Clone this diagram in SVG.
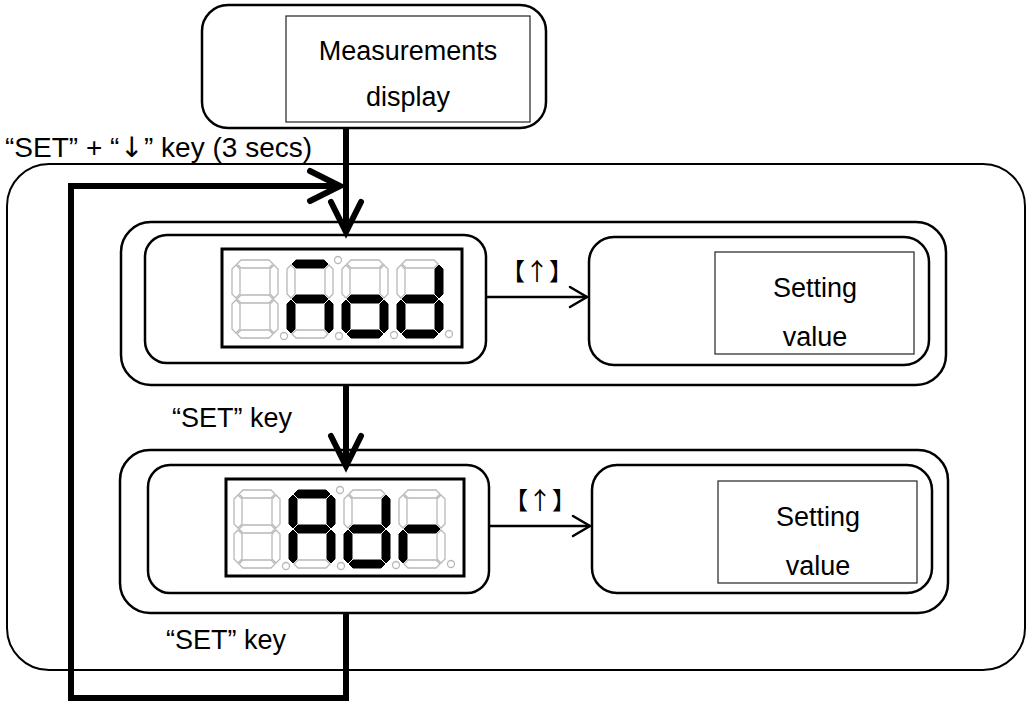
<svg xmlns="http://www.w3.org/2000/svg" xmlns:xlink="http://www.w3.org/1999/xlink" width="1026" height="702" viewBox="0 0 1026 702">
  <style>
    .box { fill: none; stroke: #000; stroke-width: 2.5; }
    .frame { fill: none; stroke: #000; stroke-width: 2; }
    .thin { fill: none; stroke: #222; stroke-width: 1.2; }
    .lcd { fill: #fff; stroke: #000; stroke-width: 3; }
    .on { fill: #000; stroke: #000; stroke-width: 1; }
    .off { fill: #fff; stroke: #b8b8b8; stroke-width: 1.3; }
    .dp { fill: #fff; stroke: #b8b8b8; stroke-width: 1.3; }
    .lbl { font-family: "Liberation Sans", Arial, sans-serif; font-size: 27px; fill: #000; }
    .arrowglyph { font-family: "DejaVu Sans", sans-serif; fill: #000; }
    .key { font-family: "Noto Sans CJK JP", "Liberation Sans", sans-serif; font-size: 24px; fill: #000; }
    .flow { fill: none; stroke: #000; stroke-width: 6; stroke-linejoin: miter; }
    .step { fill: none; stroke: #000; stroke-width: 2.5; }
  </style>
  <defs>
    <!-- seven-segment shapes, digit cell 46 x 78 -->
    <polygon id="sa" points="9,0 37,0 41,4 37,8 9,8 5,4"/>
    <polygon id="sb" points="38,9 42,5 46,9 46,34 42,38 38,34"/>
    <polygon id="sc" points="38,44 42,40 46,44 46,69 42,73 38,69"/>
    <polygon id="sd" points="9,70 37,70 41,74 37,78 9,78 5,74"/>
    <polygon id="se" points="0,44 4,40 8,44 8,69 4,73 0,69"/>
    <polygon id="sf" points="0,9 4,5 8,9 8,34 4,38 0,34"/>
    <polygon id="sg" points="9,35 37,35 41,39 37,43 9,43 5,39"/>
    <marker id="bigHead" markerUnits="userSpaceOnUse" markerWidth="50" markerHeight="50" refX="0" refY="0" viewBox="-40 -25 50 50" orient="auto" overflow="visible">
      <path d="M-30,-15 L0,0 L-30,15" fill="none" stroke="#000" stroke-width="6" stroke-linecap="round" stroke-linejoin="miter"/>
    </marker>
    <marker id="smallHead" markerUnits="userSpaceOnUse" markerWidth="30" markerHeight="30" refX="0" refY="0" viewBox="-25 -15 30 30" orient="auto" overflow="visible">
      <path d="M-17,-10 L0,0 L-17,10" fill="none" stroke="#000" stroke-width="2.5" stroke-linecap="round"/>
    </marker>
  </defs>

  <!-- outer frame of the settings loop -->
  <g id="settings-frame">
    <rect class="frame" x="7" y="164" width="1018" height="506" rx="42"/>
  </g>

  <!-- measurement display -->
  <g id="measurements">
    <rect class="box" x="202" y="5" width="344" height="123" rx="26"/>
    <rect class="thin" x="286" y="16" width="244" height="106"/>
    <text class="lbl" x="408" y="60" text-anchor="middle">Measurements</text>
    <text class="lbl" x="408" y="106" text-anchor="middle">display</text>
  </g>

  <!-- Mod item -->
  <g id="item-mod">
    <rect class="box" x="121" y="222" width="825" height="163" rx="30"/>
    <g id="display-mod">
      <rect class="box" x="145" y="235" width="341" height="128" rx="22"/>
      <rect class="lcd" x="222" y="249" width="240" height="98"/>
      <g transform="translate(232,260)">
        <use href="#sa" class="off"/><use href="#sb" class="off"/><use href="#sc" class="off"/><use href="#sd" class="off"/><use href="#se" class="off"/><use href="#sf" class="off"/><use href="#sg" class="off"/>
      </g>
      <g transform="translate(287,260)">
        <use href="#sa" class="on"/><use href="#sb" class="off"/><use href="#sc" class="on"/><use href="#sd" class="off"/><use href="#se" class="on"/><use href="#sf" class="off"/><use href="#sg" class="on"/>
      </g>
      <g transform="translate(342,260)">
        <use href="#sa" class="off"/><use href="#sb" class="off"/><use href="#sc" class="on"/><use href="#sd" class="on"/><use href="#se" class="on"/><use href="#sf" class="off"/><use href="#sg" class="on"/>
      </g>
      <g transform="translate(397,260)">
        <use href="#sa" class="off"/><use href="#sb" class="on"/><use href="#sc" class="on"/><use href="#sd" class="on"/><use href="#se" class="on"/><use href="#sf" class="off"/><use href="#sg" class="on"/>
      </g>
      <circle class="dp" cx="284" cy="336" r="3.5"/>
      <circle class="dp" cx="339" cy="336" r="3.5"/>
      <circle class="dp" cx="394" cy="335" r="3.5"/>
      <circle class="dp" cx="449" cy="334" r="3.5"/>
      <circle class="dp" cx="338" cy="260" r="3.5"/>
    </g>
    <g id="setting-mod">
      <rect class="box" x="589" y="237" width="340" height="128" rx="25"/>
      <rect class="thin" x="715" y="252" width="199" height="102"/>
      <text class="lbl" x="815" y="297" text-anchor="middle">Setting</text>
      <text class="lbl" x="815" y="346" text-anchor="middle">value</text>
    </g>
  </g>

  <!-- Adr item -->
  <g id="item-adr">
    <rect class="box" x="120" y="450" width="828" height="163" rx="30"/>
    <g id="display-adr">
      <rect class="box" x="148" y="465" width="341" height="128" rx="22"/>
      <rect class="lcd" x="226" y="479" width="238" height="97"/>
      <g transform="translate(234,490)">
        <use href="#sa" class="off"/><use href="#sb" class="off"/><use href="#sc" class="off"/><use href="#sd" class="off"/><use href="#se" class="off"/><use href="#sf" class="off"/><use href="#sg" class="off"/>
      </g>
      <g transform="translate(289,490)">
        <use href="#sa" class="on"/><use href="#sb" class="on"/><use href="#sc" class="on"/><use href="#sd" class="off"/><use href="#se" class="on"/><use href="#sf" class="on"/><use href="#sg" class="on"/>
      </g>
      <g transform="translate(344,490)">
        <use href="#sa" class="off"/><use href="#sb" class="on"/><use href="#sc" class="on"/><use href="#sd" class="on"/><use href="#se" class="on"/><use href="#sf" class="off"/><use href="#sg" class="on"/>
      </g>
      <g transform="translate(399,490)">
        <use href="#sa" class="off"/><use href="#sb" class="off"/><use href="#sc" class="off"/><use href="#sd" class="off"/><use href="#se" class="on"/><use href="#sf" class="off"/><use href="#sg" class="on"/>
      </g>
      <circle class="dp" cx="286" cy="566" r="3.5"/>
      <circle class="dp" cx="341" cy="566" r="3.5"/>
      <circle class="dp" cx="396" cy="565" r="3.5"/>
      <circle class="dp" cx="451" cy="564" r="3.5"/>
      <circle class="dp" cx="340" cy="490" r="3.5"/>
    </g>
    <g id="setting-adr">
      <rect class="box" x="592" y="465" width="340" height="128" rx="25"/>
      <rect class="thin" x="718" y="481" width="199" height="102"/>
      <text class="lbl" x="818" y="526" text-anchor="middle">Setting</text>
      <text class="lbl" x="818" y="575" text-anchor="middle">value</text>
    </g>
  </g>

  <!-- connectors -->
  <g id="connectors">
    <line class="flow" x1="346" y1="128" x2="346" y2="232" marker-end="url(#bigHead)"/>
    <line class="flow" x1="346" y1="385" x2="346" y2="466" marker-end="url(#bigHead)"/>
    <polyline class="flow" points="346,613 346,698 71,698 71,186 340,186" marker-end="url(#bigHead)"/>
    <line class="step" x1="486" y1="297" x2="587" y2="297" marker-end="url(#smallHead)"/>
    <line class="step" x1="489" y1="526" x2="590" y2="526" marker-end="url(#smallHead)"/>
  </g>

  <!-- key labels -->
  <g id="labels">
    <text class="lbl" y="157" style="font-size:28px"><tspan x="5">“SET” + “</tspan><tspan class="arrowglyph" x="120">↓</tspan><tspan x="144">” key (3 secs)</tspan></text>
    <text class="lbl" x="172" y="427">“SET” key</text>
    <text class="lbl" x="166" y="649">“SET” key</text>
    <text class="key" x="537" y="280" text-anchor="middle">【↑】</text>
    <text class="key" x="540" y="509" text-anchor="middle">【↑】</text>
  </g>
</svg>
